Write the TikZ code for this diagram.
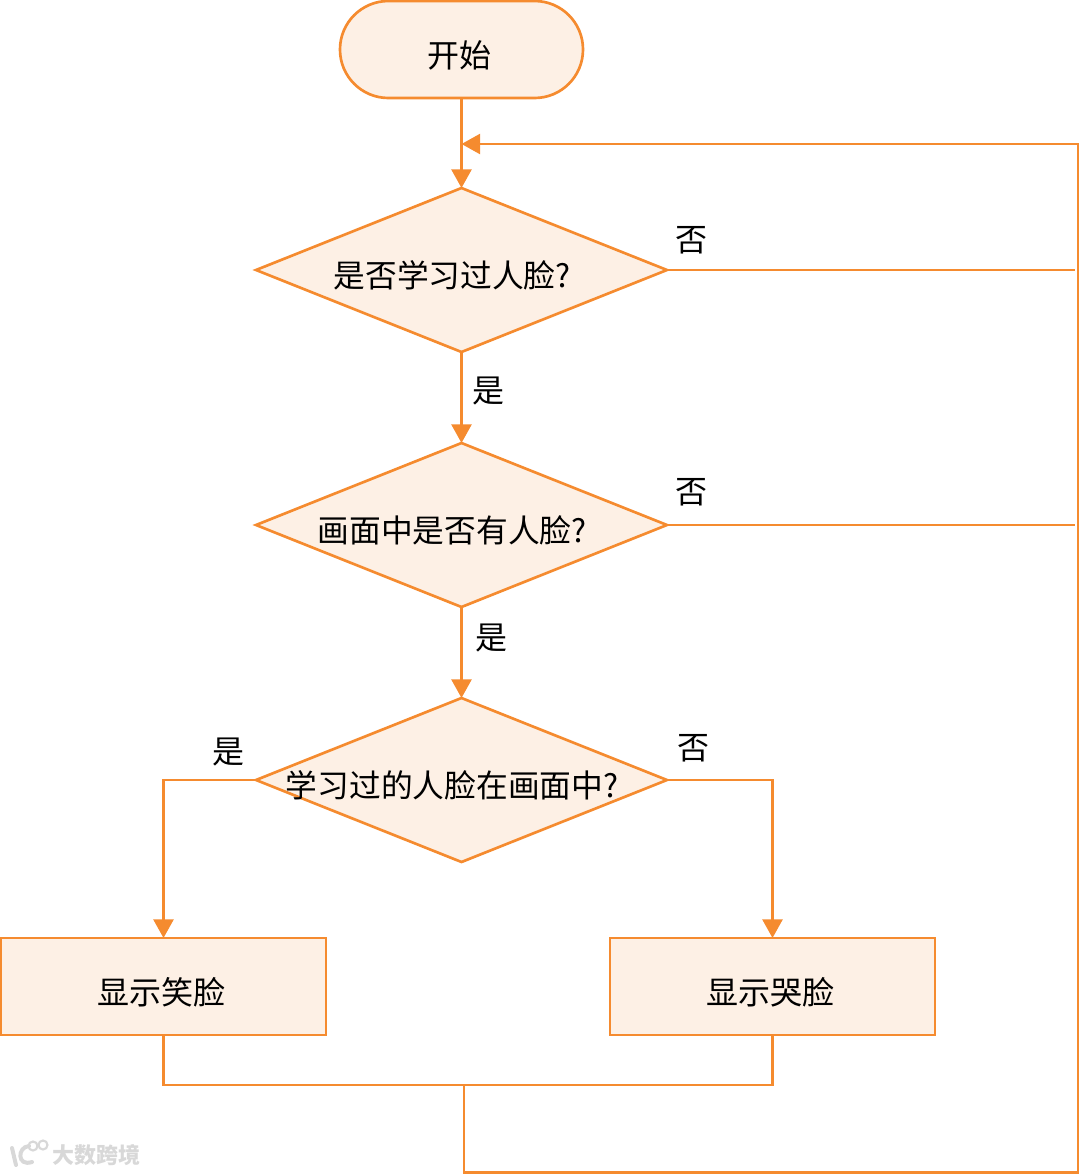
\documentclass[tikz,border=0pt]{standalone}
\usepackage{fontspec}
\setmainfont{Noto Sans CJK SC}
\usepackage{xcolor}
\usetikzlibrary{arrows.meta,positioning,shapes.geometric}
\definecolor{flowline}{HTML}{F58B2F}
\definecolor{flowfill}{HTML}{FDF0E5}
\definecolor{wmgray}{HTML}{D8D8D8}
\tikzset{
  box/.style={rectangle, draw=flowline, fill=flowfill, line width=2pt, outer sep=0pt, minimum width=243.75pt, minimum height=72.75pt},
  term/.style={box, rounded corners=36.3pt, minimum width=182.25pt},
  boxtext/.style={font=\fontsize{24pt}{28pt}\selectfont, xshift=-1.5pt, yshift=-4.3pt},
  dec/.style={diamond, aspect=2.5, draw=flowline, fill=flowfill, line width=2pt, inner sep=0pt, outer sep=0pt, minimum width=308.25pt, minimum height=123pt},
  qtext/.style={font=\fontsize{23.8pt}{28pt}\selectfont, xshift=-7pt, yshift=-3.75pt},
  lbl/.style={inner sep=0pt, font=\fontsize{24pt}{28pt}\selectfont},
  flow/.style={draw=flowline, line width=2pt},
  arr/.style={flow, -{Triangle[length=14pt,width=15pt]}},
  wmtext/.style={inner sep=0pt, text=wmgray, font=\bfseries\fontsize{16.5pt}{20pt}\selectfont},
  wmlogo/.style={draw=wmgray, line width=3pt, line cap=round}
}

\begin{document}
\begin{tikzpicture}[x=0.75pt,y=-0.75pt]
  \useasboundingbox (0,0) rectangle (1080,1175);

  \node[term,label={[boxtext]center:开始}] (st) at (461.5,49.5) {};

  \node[dec,label={[qtext]center:是否学习过人脸?}] (q1) at (461.5,270) {};
  \node[dec,label={[qtext]center:画面中是否有人脸?}] (q2) at (461.5,525) {};
  \node[dec,label={[qtext]center:学习过的人脸在画面中?}] (q3) at (461.5,780) {};

  \node[box,label={[boxtext]center:显示笑脸}] (smile) at (163.5,986.5) {};
  \node[box,label={[boxtext]center:显示哭脸}] (cry) at (772.5,986.5) {};

  \coordinate (back) at (461.5,144);
  \coordinate (no1) at (1075,270);
  \coordinate (no2) at (1075,525);
  \coordinate (join) at (464,1085);
  \coordinate (corner) at (1078,1172.5);

  \draw[arr] (st)--(q1);
  \draw[arr] (q1)--(q2);
  \draw[arr] (q2)--(q3);
  \draw[flow] (q1.east)--(no1);
  \draw[flow] (q2.east)--(no2);
  \draw[arr] (q3.west)-|(smile.north);
  \draw[arr] (q3.east)-|(cry.north);
  \draw[flow] (smile.south)|-(join)-|(cry.south);
  \draw[arr] (join)|-(corner)|-(back);

  \node[lbl] (n1) at (691,240) {否};
  \node[lbl] (y1) at (488,391) {是};
  \node[lbl] (n2) at (691,492) {否};
  \node[lbl] (y2) at (491,638) {是};
  \node[lbl] (y3) at (228,752) {是};
  \node[lbl] (n3) at (693,748) {否};

  % watermark
  \node[wmtext] (wm) at (96,1155) {大数跨境};
  \draw[wmlogo] (12,1148)--(16,1165);
  \draw[wmlogo] (29,1146) .. controls (17,1147) and (17,1167) .. (32,1162);
  \draw[wmgray, line width=1.6pt] (33,1146) circle[radius=4.5];
  \draw[wmgray, line width=1.6pt] (43,1145) circle[radius=4.5];
\end{tikzpicture}
\end{document}
